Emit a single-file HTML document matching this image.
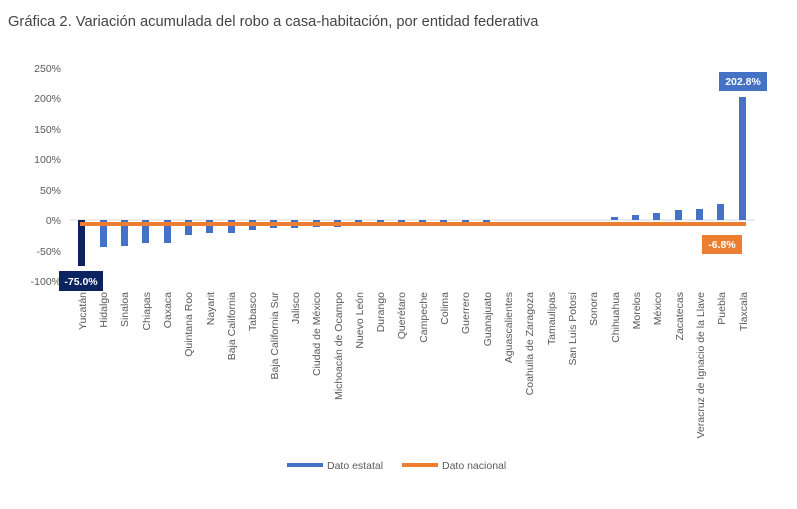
<!DOCTYPE html><html><head><meta charset="utf-8"><style>body{margin:0;background:#fff;}</style></head><body>
<svg width="797" height="504" xmlns="http://www.w3.org/2000/svg" font-family="Liberation Sans, sans-serif">
<text x="8" y="26" font-size="14.7" fill="#444">Gráfica 2. Variación acumulada del robo a casa-habitación, por entidad federativa</text>
<g font-size="10.5" fill="#595959" text-anchor="end">
<text x="61" y="72">250%</text><text x="61" y="102">200%</text><text x="61" y="133">150%</text><text x="61" y="163">100%</text><text x="61" y="194">50%</text><text x="61" y="224">0%</text><text x="61" y="255">-50%</text><text x="61" y="285">-100%</text>
</g>
<line x1="70" y1="220" x2="755" y2="220" stroke="#d9d9d9" stroke-width="1"/>
<rect x="78" y="220" width="7" height="46" fill="#0b2460"/>
<g fill="#4472c4">
<rect x="100" y="220" width="7" height="27"/><rect x="121" y="220" width="7" height="26"/><rect x="142" y="220" width="7" height="23"/><rect x="164" y="220" width="7" height="23"/><rect x="185" y="220" width="7" height="15"/><rect x="206" y="220" width="7" height="13"/><rect x="228" y="220" width="7" height="13"/><rect x="249" y="220" width="7" height="10"/><rect x="270" y="220" width="7" height="8"/><rect x="291" y="220" width="7" height="8"/><rect x="313" y="220" width="7" height="7"/><rect x="334" y="220" width="7" height="7"/><rect x="355" y="220" width="7" height="5"/><rect x="377" y="220" width="7" height="4"/><rect x="398" y="220" width="7" height="4"/><rect x="419" y="220" width="7" height="4"/><rect x="440" y="220" width="7" height="4"/><rect x="462" y="220" width="7" height="4"/><rect x="483" y="220" width="7" height="4"/>
<rect x="611" y="217" width="7" height="3"/><rect x="632" y="215" width="7" height="5"/><rect x="653" y="213" width="7" height="7"/><rect x="675" y="210" width="7" height="10"/><rect x="696" y="209" width="7" height="11"/><rect x="717" y="204" width="7" height="16"/><rect x="739" y="97" width="7" height="123"/>
</g>
<rect x="80" y="222" width="666" height="4" fill="#ed7d31"/>
<rect x="59" y="271" width="44" height="20" fill="#0b2460"/><text x="81" y="285" font-size="10.5" font-weight="bold" fill="#fff" text-anchor="middle">-75.0%</text>
<rect x="719" y="72" width="48" height="19" fill="#4472c4"/><text x="743" y="85" font-size="10.5" font-weight="bold" fill="#fff" text-anchor="middle">202.8%</text>
<rect x="702" y="235" width="40" height="19" fill="#ed7d31"/><text x="722" y="248" font-size="10.5" font-weight="bold" fill="#fff" text-anchor="middle">-6.8%</text>
<g font-size="10.5" fill="#595959" text-anchor="end">
<text transform="translate(86,292) rotate(-90)">Yucatán</text><text transform="translate(107,292) rotate(-90)">Hidalgo</text><text transform="translate(128,292) rotate(-90)">Sinaloa</text><text transform="translate(150,292) rotate(-90)">Chiapas</text><text transform="translate(171,292) rotate(-90)">Oaxaca</text><text transform="translate(192,292) rotate(-90)">Quintana Roo</text><text transform="translate(214,292) rotate(-90)">Nayarit</text><text transform="translate(235,292) rotate(-90)">Baja California</text><text transform="translate(256,292) rotate(-90)">Tabasco</text><text transform="translate(278,292) rotate(-90)">Baja California Sur</text><text transform="translate(299,292) rotate(-90)">Jalisco</text><text transform="translate(320,292) rotate(-90)">Ciudad de México</text><text transform="translate(342,292) rotate(-90)">Michoacán de Ocampo</text><text transform="translate(363,292) rotate(-90)">Nuevo León</text><text transform="translate(384,292) rotate(-90)">Durango</text><text transform="translate(405,292) rotate(-90)">Querétaro</text><text transform="translate(427,292) rotate(-90)">Campeche</text><text transform="translate(448,292) rotate(-90)">Colima</text><text transform="translate(469,292) rotate(-90)">Guerrero</text><text transform="translate(491,292) rotate(-90)">Guanajuato</text><text transform="translate(512,292) rotate(-90)">Aguascalientes</text><text transform="translate(533,292) rotate(-90)">Coahuila de Zaragoza</text><text transform="translate(555,292) rotate(-90)">Tamaulipas</text><text transform="translate(576,292) rotate(-90)">San Luis Potosí</text><text transform="translate(597,292) rotate(-90)">Sonora</text><text transform="translate(619,292) rotate(-90)">Chihuahua</text><text transform="translate(640,292) rotate(-90)">Morelos</text><text transform="translate(661,292) rotate(-90)">México</text><text transform="translate(683,292) rotate(-90)">Zacatecas</text><text transform="translate(704,292) rotate(-90)">Veracruz de Ignacio de la Llave</text><text transform="translate(725,292) rotate(-90)">Puebla</text><text transform="translate(747,292) rotate(-90)">Tlaxcala</text>
</g>
<rect x="287" y="463" width="36" height="4" fill="#4472c4"/><text x="327" y="469" font-size="10.5" fill="#595959">Dato estatal</text>
<rect x="402" y="463" width="36" height="4" fill="#ed7d31"/><text x="442" y="469" font-size="10.5" fill="#595959">Dato nacional</text>
</svg>
</body></html>
